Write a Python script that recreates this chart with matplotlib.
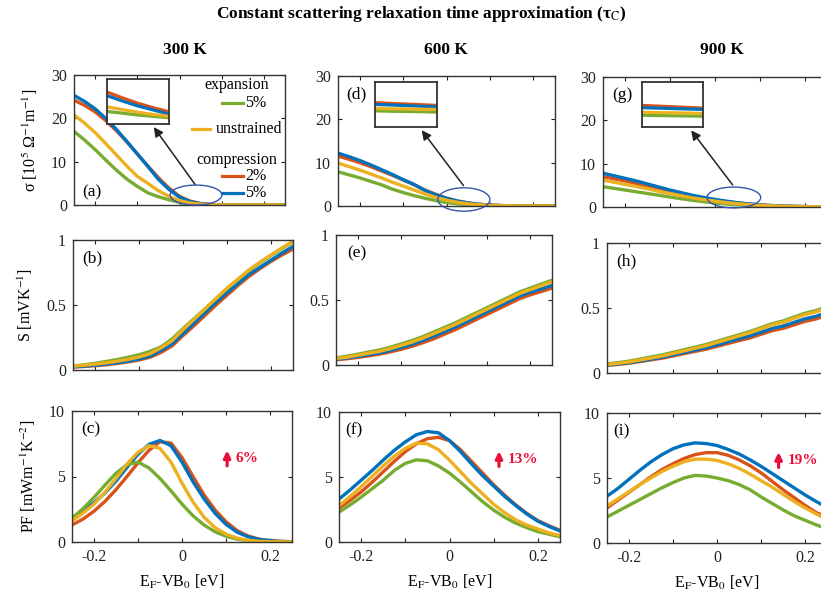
import numpy as np
import matplotlib
matplotlib.use('Agg')
import matplotlib.pyplot as plt
from matplotlib.patches import Ellipse
from matplotlib.lines import Line2D

plt.rcParams['font.family'] = ['Liberation Serif', 'DejaVu Serif']
plt.rcParams['mathtext.fontset'] = 'stix'

# Fermi level grid E_F - VB_0 [eV]
ef = np.linspace(-0.25, 0.25, 21)

# ---- conductivity sigma [10^5 1/(Ohm m)] ----
sig300_exp5 = [17.0, 15.0, 12.8, 10.4, 8.1, 6.0, 4.3, 2.8, 1.9, 1.2, 0.6, 0.25, 0.1, 0.03, 0.01, 0, 0, 0, 0, 0, 0]
sig300_unstr = [20.8, 18.9, 16.7, 14.2, 11.6, 9.0, 6.6, 5.0, 3.3, 2.0, 1.0, 0.45, 0.18, 0.05, 0.01, 0, 0, 0, 0, 0, 0]
sig300_comp2 = [24.2, 23.0, 21.5, 19.5, 17.2, 14.6, 11.8, 9.0, 6.3, 3.9, 2.0, 0.9, 0.35, 0.12, 0.04, 0.01, 0, 0, 0, 0, 0]
sig300_comp5 = [25.3, 23.9, 22.2, 20.0, 17.5, 14.7, 11.8, 8.9, 5.9, 3.6, 1.8, 0.8, 0.3, 0.1, 0.03, 0.01, 0, 0, 0, 0, 0]

sig600_exp5 = [7.9, 7.2, 6.5, 5.7, 4.9, 3.9, 3.1, 2.4, 1.8, 1.25, 0.8, 0.5, 0.3, 0.17, 0.09, 0.04, 0.02, 0.01, 0, 0, 0]
sig600_unstr = [9.9, 9.1, 8.3, 7.4, 6.5, 5.5, 4.6, 3.7, 2.8, 2.0, 1.35, 0.85, 0.5, 0.28, 0.15, 0.07, 0.03, 0.01, 0, 0, 0]
sig600_comp2 = [11.5, 10.8, 10.0, 9.1, 8.1, 7.1, 6.0, 4.9, 3.7, 2.7, 1.8, 1.15, 0.7, 0.4, 0.22, 0.11, 0.05, 0.02, 0.01, 0, 0]
sig600_comp5 = [12.2, 11.4, 10.5, 9.5, 8.4, 7.3, 6.1, 5.0, 3.6, 2.6, 1.8, 1.15, 0.7, 0.4, 0.22, 0.11, 0.05, 0.02, 0.01, 0, 0]

sig900_exp5 = [4.7, 4.3, 3.9, 3.5, 3.1, 2.7, 2.3, 1.9, 1.55, 1.22, 0.95, 0.7, 0.5, 0.36, 0.25, 0.17, 0.11, 0.07, 0.04, 0.02, 0.01]
sig900_unstr = [6.2, 5.7, 5.2, 4.7, 4.2, 3.6, 3.1, 2.6, 2.1, 1.7, 1.35, 1.02, 0.76, 0.55, 0.38, 0.26, 0.17, 0.11, 0.07, 0.04, 0.02]
sig900_comp2 = [7.0, 6.5, 6.0, 5.4, 4.8, 4.2, 3.6, 3.0, 2.5, 2.0, 1.6, 1.25, 0.93, 0.68, 0.48, 0.33, 0.22, 0.15, 0.1, 0.06, 0.04]
sig900_comp5 = [7.8, 7.2, 6.6, 6.0, 5.3, 4.6, 3.9, 3.3, 2.7, 2.2, 1.75, 1.35, 1.0, 0.72, 0.5, 0.35, 0.24, 0.16, 0.1, 0.06, 0.04]

# ---- Seebeck S [mV/K] ----
see300_exp5 = [0.03, 0.04, 0.051, 0.065, 0.08, 0.098, 0.117, 0.143, 0.178, 0.238, 0.318, 0.395, 0.47, 0.548, 0.625, 0.695, 0.765, 0.825, 0.88, 0.935, 0.985]
see300_unstr = [0.03, 0.037, 0.045, 0.055, 0.067, 0.082, 0.10, 0.125, 0.17, 0.225, 0.31, 0.39, 0.47, 0.55, 0.63, 0.70, 0.77, 0.83, 0.885, 0.94, 0.99]
see300_comp2 = [0.022, 0.027, 0.033, 0.04, 0.05, 0.062, 0.077, 0.098, 0.135, 0.185, 0.265, 0.34, 0.42, 0.50, 0.575, 0.65, 0.72, 0.78, 0.835, 0.885, 0.93]
see300_comp5 = [0.025, 0.031, 0.037, 0.045, 0.055, 0.068, 0.084, 0.107, 0.15, 0.2, 0.28, 0.36, 0.44, 0.52, 0.595, 0.665, 0.735, 0.79, 0.845, 0.9, 0.95]

see600_exp5 = [0.055, 0.068, 0.083, 0.099, 0.115, 0.136, 0.161, 0.187, 0.217, 0.252, 0.287, 0.322, 0.362, 0.402, 0.442, 0.482, 0.522, 0.562, 0.592, 0.622, 0.652]
see600_unstr = [0.05, 0.06, 0.075, 0.09, 0.105, 0.125, 0.15, 0.175, 0.205, 0.24, 0.275, 0.31, 0.35, 0.39, 0.43, 0.47, 0.51, 0.55, 0.58, 0.61, 0.64]
see600_comp2 = [0.04, 0.048, 0.058, 0.07, 0.083, 0.1, 0.12, 0.143, 0.17, 0.2, 0.235, 0.27, 0.31, 0.35, 0.39, 0.43, 0.47, 0.51, 0.54, 0.565, 0.592]
see600_comp5 = [0.045, 0.054, 0.066, 0.079, 0.093, 0.111, 0.134, 0.158, 0.187, 0.22, 0.255, 0.29, 0.33, 0.37, 0.41, 0.45, 0.49, 0.53, 0.56, 0.585, 0.612]

see900_exp5 = [0.07, 0.08, 0.091, 0.107, 0.123, 0.139, 0.159, 0.179, 0.199, 0.219, 0.244, 0.269, 0.294, 0.319, 0.349, 0.379, 0.4, 0.43, 0.46, 0.48, 0.51]
see900_unstr = [0.065, 0.075, 0.085, 0.10, 0.115, 0.13, 0.15, 0.17, 0.19, 0.21, 0.235, 0.26, 0.285, 0.31, 0.34, 0.37, 0.39, 0.42, 0.45, 0.47, 0.50]
see900_comp2 = [0.058, 0.066, 0.075, 0.088, 0.101, 0.114, 0.131, 0.149, 0.166, 0.183, 0.205, 0.227, 0.249, 0.27, 0.298, 0.325, 0.343, 0.37, 0.397, 0.416, 0.443]
see900_comp5 = [0.061, 0.07, 0.079, 0.093, 0.107, 0.121, 0.139, 0.158, 0.176, 0.194, 0.217, 0.24, 0.263, 0.286, 0.314, 0.342, 0.361, 0.389, 0.417, 0.436, 0.465]

# ---- power factor PF [mW/(m K^2)] ----
pf300_exp5 = [1.8, 2.55, 3.4, 4.35, 5.25, 5.9, 6.1, 5.65, 4.85, 3.9, 2.9, 2.0, 1.3, 0.78, 0.44, 0.22, 0.1, 0.04, 0.01, 0, 0]
pf300_unstr = [1.6, 2.2, 2.9, 3.8, 4.85, 5.95, 6.85, 7.35, 7.15, 6.1, 4.5, 3.05, 1.9, 1.1, 0.6, 0.3, 0.13, 0.05, 0.02, 0.01, 0]
pf300_comp2 = [1.3, 1.75, 2.35, 3.1, 4.0, 5.0, 6.05, 7.0, 7.65, 7.55, 6.45, 5.0, 3.6, 2.45, 1.55, 0.88, 0.46, 0.22, 0.1, 0.05, 0.02]
pf300_comp5 = [1.85, 2.4, 3.0, 3.75, 4.65, 5.7, 6.7, 7.45, 7.75, 7.35, 6.1, 4.6, 3.3, 2.2, 1.35, 0.75, 0.4, 0.2, 0.1, 0.04, 0.02]

pf600_exp5 = [2.3, 2.85, 3.45, 4.1, 4.75, 5.5, 6.05, 6.32, 6.25, 5.85, 5.3, 4.6, 3.85, 3.1, 2.45, 1.9, 1.45, 1.1, 0.8, 0.6, 0.4]
pf600_unstr = [2.8, 3.5, 4.25, 5.05, 5.85, 6.6, 7.2, 7.6, 7.55, 7.1, 6.3, 5.4, 4.5, 3.7, 2.9, 2.25, 1.7, 1.3, 1.0, 0.7, 0.5]
pf600_comp2 = [2.6, 3.2, 3.85, 4.6, 5.4, 6.2, 6.95, 7.55, 7.95, 8.05, 7.8, 7.1, 6.2, 5.3, 4.4, 3.6, 2.85, 2.2, 1.65, 1.25, 0.9]
pf600_comp5 = [3.3, 4.0, 4.75, 5.5, 6.3, 7.05, 7.7, 8.25, 8.5, 8.4, 7.8, 6.95, 6.0, 5.1, 4.3, 3.5, 2.8, 2.15, 1.6, 1.2, 0.85]

pf900_exp5 = [2.0, 2.45, 2.9, 3.35, 3.8, 4.25, 4.65, 5.0, 5.2, 5.15, 5.0, 4.8, 4.5, 4.1, 3.55, 3.05, 2.55, 2.1, 1.75, 1.4, 1.1]
pf900_unstr = [2.85, 3.4, 3.95, 4.5, 5.0, 5.5, 5.9, 6.25, 6.45, 6.45, 6.35, 6.1, 5.75, 5.3, 4.8, 4.3, 3.75, 3.2, 2.7, 2.25, 1.8]
pf900_comp2 = [2.7, 3.3, 3.9, 4.5, 5.1, 5.65, 6.1, 6.5, 6.8, 6.95, 6.95, 6.75, 6.4, 5.95, 5.4, 4.75, 4.1, 3.5, 2.9, 2.35, 1.95]
pf900_comp5 = [3.6, 4.2, 4.9, 5.6, 6.25, 6.8, 7.25, 7.55, 7.7, 7.65, 7.5, 7.2, 6.85, 6.4, 5.9, 5.35, 4.8, 4.25, 3.7, 3.2, 2.75]

# ---- zoomed insets (relative height inside the inset box) ----
inset_x = [0, 0.25, 0.5, 0.75, 1.0]
ins300_exp5 = [0.28, 0.24, 0.20, 0.17, 0.14]
ins300_unstr = [0.38, 0.32, 0.26, 0.21, 0.17]
ins300_comp2 = [0.71, 0.58, 0.46, 0.36, 0.27]
ins300_comp5 = [0.63, 0.51, 0.40, 0.31, 0.22]
ins600_exp5 = [0.36, 0.35, 0.345, 0.34, 0.33]
ins600_unstr = [0.41, 0.405, 0.40, 0.395, 0.39]
ins600_comp2 = [0.54, 0.525, 0.51, 0.495, 0.48]
ins600_comp5 = [0.50, 0.49, 0.475, 0.46, 0.45]
ins900_exp5 = [0.26, 0.255, 0.25, 0.245, 0.24]
ins900_unstr = [0.33, 0.32, 0.315, 0.31, 0.30]
ins900_comp2 = [0.48, 0.465, 0.45, 0.435, 0.42]
ins900_comp5 = [0.43, 0.42, 0.41, 0.40, 0.39]

temps = ['300 K', '600 K', '900 K']
pf_gain = ['6%', '13%', '19%']

col = {'exp5': '#77AC30', 'unstr': '#EDB120', 'comp2': '#D95319', 'comp5': '#0072BD'}
order = ['comp2', 'comp5', 'exp5', 'unstr']
g = globals()

W, H = 821, 598
fig = plt.figure(figsize=(W / 100, H / 100), dpi=100)


def box(l, r, t, b):
    return [l / W, 1 - b / H, (r - l) / W, (b - t) / H]


pos = [
    [box(74, 285, 75, 205), box(338, 555, 76, 206), box(603, 827, 77, 207)],
    [box(73, 293, 240, 370), box(336, 552, 235, 365), box(607, 827, 243, 373)],
    [box(72, 292, 411, 542), box(339, 560, 412, 542), box(607, 827, 413, 543)],
]
inset_pos = [box(107, 169, 79, 124), box(375, 437, 82, 127), box(642, 703, 82, 127)]
prefix = ['sig', 'see', 'pf']
ylims = [(0, 30), (0, 1), (0, 10)]
yticks = [[0, 10, 20, 30], [0, 0.5, 1], [0, 5, 10]]
ylabels = ['σ [10$^5$ Ω$^{-1}$m$^{-1}$]', 'S [mVK$^{-1}$]', 'PF [mWm$^{-1}$K$^{-2}$]']
letters = [['(a)', '(d)', '(g)'], ['(b)', '(e)', '(h)'], ['(c)', '(f)', '(i)']]
letter_xy = [[(0.04, 0.07), (0.04, 0.83), (0.04, 0.83)],
             [(0.04, 0.83), (0.05, 0.83), (0.04, 0.83)],
             [(0.04, 0.83), (0.03, 0.83), (0.03, 0.83)]]
ell = [((0.039, 2.3), 0.123, 4.6), ((0.04, 1.5), 0.12, 5.4), ((0.042, 2.2), 0.12, 4.8)]
arrow_tail = [(0.041, 4.2), (0.043, 4.2), (0.043, 4.6)]
arrow_head = [(-0.065, 18.5), (-0.061, 18.0), (-0.057, 18.2)]
gain_x = [0.705, 0.724, 0.78]
red = '#E8103A'

for r in range(3):
    for c in range(3):
        T = temps[c].split()[0]
        ax = fig.add_axes(pos[r][c])
        for k in order:
            ax.plot(ef, g[f'{prefix[r]}{T}_{k}'], color=col[k], lw=2.4, solid_joinstyle='round')
        ax.set_xlim(-0.25, 0.25)
        ax.set_ylim(*ylims[r])
        ax.set_yticks(yticks[r])
        ax.set_yticklabels([f'{v:g}' for v in yticks[r]])
        ax.set_xticks([-0.2, -0.1, 0, 0.1, 0.2])
        if r == 2:
            ax.set_xticklabels(['-0.2', '', '0', '', '0.2'])
            ax.set_xlabel(r'E$_\mathrm{F}$-VB$_0$ [eV]', fontsize=11.5, labelpad=6)
        else:
            ax.set_xticklabels([])
        ax.tick_params(direction='in', top=True, right=True, length=3, width=0.8,
                       labelsize=11.5, colors='#222222', pad=5)
        for s in ax.spines.values():
            s.set_linewidth(1.0)
            s.set_color('#333333')
        if c == 0:
            ax.set_ylabel(ylabels[r], fontsize=11.5, labelpad=8)
        ax.text(*letter_xy[r][c], letters[r][c], transform=ax.transAxes, fontsize=12.5)

        if r == 0:
            (cx, cy), ew, eh = ell[c]
            ax.add_patch(Ellipse((cx, cy), ew, eh, fill=False, ec='#3355AA', lw=1.0, clip_on=False, zorder=5))
            ax.annotate('', xy=arrow_head[c], xytext=arrow_tail[c],
                        arrowprops=dict(arrowstyle='-|>', color='#222222', lw=1.1, mutation_scale=14),
                        annotation_clip=False)
            ia = fig.add_axes(inset_pos[c])
            for k in order:
                ia.plot(inset_x, g[f'ins{T}_{k}'], color=col[k], lw=2.3)
            ia.set_xlim(0, 1)
            ia.set_ylim(0, 1)
            ia.set_xticks([])
            ia.set_yticks([])
            for s in ia.spines.values():
                s.set_linewidth(1.3)
                s.set_color('#333333')

        if r == 2:
            ax.annotate('', xy=(gain_x[c], 0.72), xytext=(gain_x[c], 0.56), xycoords='axes fraction',
                        arrowprops=dict(arrowstyle='-|>', color=red, lw=2.3, mutation_scale=10))
            ax.text(gain_x[c] + 0.04, 0.635, pf_gain[c], transform=ax.transAxes, color=red,
                    fontsize=11, fontweight='bold', va='center')

        if r == 0 and c == 0:
            ta = ax.transAxes
            ax.text(0.77, 0.92, 'expansion', transform=ta, ha='center', va='center', fontsize=11.5)
            ax.add_line(Line2D([0.70, 0.80], [0.785, 0.785], transform=ta, color=col['exp5'], lw=2.3))
            ax.text(0.81, 0.785, '5%', transform=ta, va='center', fontsize=11.5)
            ax.add_line(Line2D([0.56, 0.645], [0.585, 0.585], transform=ta, color=col['unstr'], lw=2.3))
            ax.text(0.673, 0.585, 'unstrained', transform=ta, va='center', fontsize=11.5)
            ax.text(0.77, 0.346, 'compression', transform=ta, ha='center', va='center', fontsize=11.5)
            ax.add_line(Line2D([0.70, 0.80], [0.223, 0.223], transform=ta, color=col['comp2'], lw=2.3))
            ax.text(0.81, 0.223, '2%', transform=ta, va='center', fontsize=11.5)
            ax.add_line(Line2D([0.70, 0.80], [0.092, 0.092], transform=ta, color=col['comp5'], lw=2.3))
            ax.text(0.81, 0.092, '5%', transform=ta, va='center', fontsize=11.5)

fig.text(421 / W, 1 - 14 / H, 'Constant scattering relaxation time approximation (τ$_\\mathrm{C}$)',
         ha='center', va='center', fontsize=12.5, fontweight='bold')
for c, xc in enumerate([185, 446, 722]):
    fig.text(xc / W, 1 - 50 / H, temps[c], ha='center', va='center', fontsize=12.5, fontweight='bold')

fig.savefig('out.png', dpi=100)
